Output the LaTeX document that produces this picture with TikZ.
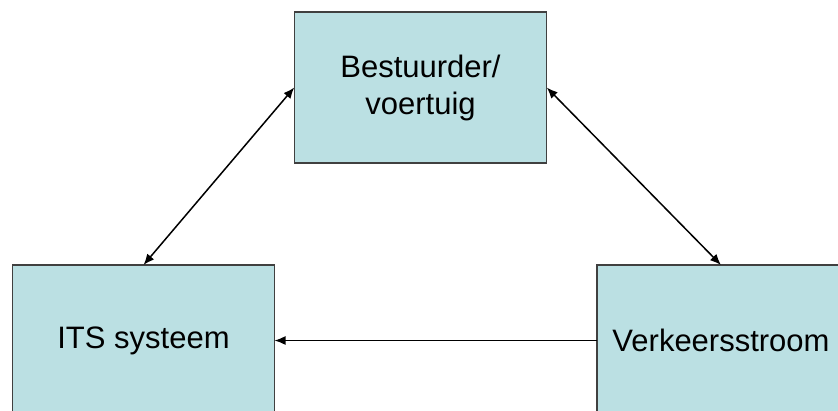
\documentclass[tikz,border=0pt]{standalone}
\usepackage{fontspec}
\setmainfont{Liberation Sans}
\usetikzlibrary{arrows.meta}
\definecolor{boxfill}{HTML}{BBE0E3}
\definecolor{boxline}{HTML}{404040}
\tikzset{
  block/.style={draw=boxline, fill=boxfill, line width=1.2pt, outer sep=0pt,
    inner sep=0pt, align=center, font=\fontsize{31}{37}\selectfont},
  link/.style={line width=1.5pt, black},
  tip/.tip={Latex[length=11pt,width=9pt]}
}
\begin{document}
\begin{tikzpicture}[x=1pt,y=-1pt]
  \useasboundingbox (0,0) rectangle (838,410);
  \begin{scope}
    \clip (0,0) rectangle (838,410);
    \node[block, minimum width=252.5pt, minimum height=151pt] (bv) at (420.5,87.5) {Bestuurder/\\voertuig};
    \node[block, minimum width=262pt, minimum height=151pt] (its) at (143.5,340.5) {ITS systeem};
    \node[block, minimum width=248pt, minimum height=151pt] (vs) at (721,340.5) {Verkeersstroom};
    \draw[link, tip-tip] (bv.west) -- (its.north);
    \draw[link, tip-tip] (bv.east) -- (vs.north);
    \draw[link, -tip] (vs.west) -- (its.east);
  \end{scope}
\end{tikzpicture}
\end{document}
